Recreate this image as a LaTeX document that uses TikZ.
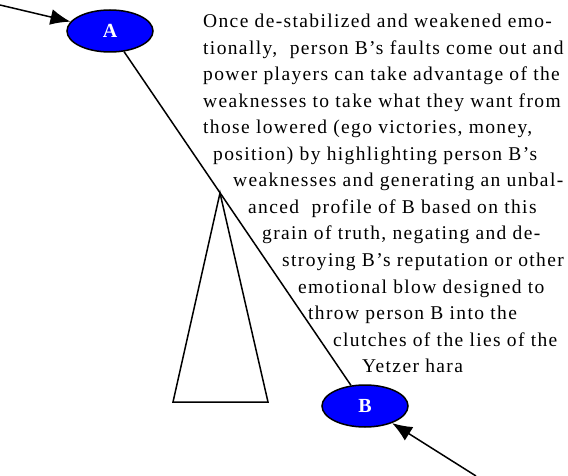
\documentclass[tikz,border=0pt]{standalone}
\usepackage{fontspec}
\setmainfont{Liberation Serif}
\newfontfamily\notefont[LetterSpace=7]{Liberation Serif}
\usetikzlibrary{arrows.meta,shapes.geometric}
\begin{document}
\begin{tikzpicture}[x=1pt,y=-1pt,
  person/.style={ellipse,draw=black,line width=1.5pt,fill={rgb,255:red,0;green,0;blue,255},
    minimum width=86pt,minimum height=42pt,inner sep=0pt,text=white,
    font=\fontsize{20}{20}\selectfont\bfseries},
  link/.style={line width=1.5pt,draw=black},
  feed/.style={line width=1.5pt,draw=black,-{Latex[length=20pt,width=16pt]}},
  txt/.style={anchor=base west,inner sep=0pt,font=\notefont\fontsize{19.5}{19.5}\selectfont}]
\useasboundingbox (0,0) rectangle (568,476);
% the two people
\node[person] (A) at (110,31) {A};
\node[person] (B) at (365,406) {B};
\coordinate (inA) at (0,5);
\coordinate (inB) at (476,476);
\draw[feed] (inA) -- (A);
\draw[feed] (inB) -- (B);
\draw[link] (A) -- (B);
% the wedge under the slope
\coordinate (apex) at (220,193);
\coordinate (bl) at (173,402);
\coordinate (br) at (268,402);
\draw[link,line join=miter] (bl) -- (apex) -- (br) -- cycle;
% the explanation, one line per node
\node[txt] (t1) at (203,28) {Once de-stabilized and weakened emo-};
\node[txt] (t2) at (203,54.5) {tionally,\ \ person B’s faults come out and};
\node[txt] (t3) at (203,81) {power players can take advantage of the};
\node[txt] (t4) at (203,107.5) {weaknesses to take what they want from};
\node[txt] (t5) at (203,134) {those lowered (ego victories, money,};
\node[txt] (t6) at (213,160.5) {position) by highlighting person B’s};
\node[txt] (t7) at (233,187) {weaknesses and generating an unbal-};
\node[txt] (t8) at (248,213.5) {anced\ \ profile of B based on this};
\node[txt] (t9) at (262,240) {grain of truth, negating and de-};
\node[txt] (t10) at (282,266.5) {stroying B’s reputation or other};
\node[txt] (t11) at (298,293) {emotional blow designed to};
\node[txt] (t12) at (308,319.5) {throw person B into the};
\node[txt] (t13) at (333,346) {clutches of the lies of the};
\node[txt] (t14) at (362,372.5) {Yetzer hara};
\end{tikzpicture}
\end{document}
